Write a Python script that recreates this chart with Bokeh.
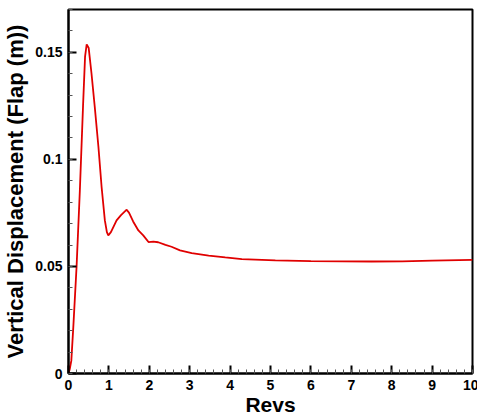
from bokeh.plotting import figure
from bokeh.models import FixedTicker, Range1d
from bokeh.embed import file_html
from bokeh.resources import INLINE

revs = [0, 0.03, 0.07, 0.12, 0.2, 0.28, 0.36, 0.41, 0.45, 0.5, 0.57, 0.65, 0.74,
        0.82, 0.9, 0.95, 0.985, 1.05, 1.19, 1.3, 1.44, 1.5, 1.6, 1.73, 1.85, 1.98,
        2.1, 2.22, 2.4, 2.55, 2.76, 3.05, 3.47, 3.88, 4.29, 5.12, 6.0, 6.77, 7.5,
        8.26, 9.0, 10.0]
disp = [0, 0.002, 0.006, 0.022, 0.05, 0.085, 0.125, 0.148, 0.1537, 0.152, 0.140,
        0.1245, 0.106, 0.087, 0.0715, 0.066, 0.0645, 0.066, 0.0715, 0.074, 0.0765,
        0.075, 0.071, 0.0668, 0.0645, 0.0614, 0.0616, 0.0613, 0.0601, 0.0592,
        0.0575, 0.0562, 0.0551, 0.0542, 0.0534, 0.0528, 0.0525, 0.0524, 0.0523,
        0.0524, 0.0527, 0.0531]

x_ticks = [0, 1, 2, 3, 4, 5, 6, 7, 8, 9, 10]
y_ticks = [0, 0.05, 0.1, 0.15]
y_tick_labels = ["0", "0.05", "0.1", "0.15"]

p = figure(width=477, height=415, output_backend="svg", toolbar_location=None,
           x_range=Range1d(0, 10), y_range=Range1d(0, 0.17),
           min_border_left=67, min_border_right=6, min_border_top=9,
           min_border_bottom=42)
p.frame_width = 404
p.frame_height = 364

p.line(revs, disp, line_color="#e00000", line_width=1.8)

p.grid.visible = False
p.outline_line_color = "black"
p.outline_line_width = 2
p.background_fill_color = "white"
p.border_fill_color = "white"

p.xaxis.ticker = FixedTicker(ticks=x_ticks,
                             minor_ticks=[i * 0.2 for i in range(51)])
p.yaxis.ticker = FixedTicker(ticks=y_ticks,
                             minor_ticks=[i * 0.01 for i in range(18)])
p.yaxis.major_label_overrides = {t: l for t, l in zip(y_ticks, y_tick_labels)}

for ax in (p.xaxis, p.yaxis):
    ax.axis_line_width = 2
    ax.axis_line_color = "black"
    ax.major_tick_in = 8
    ax.major_tick_out = 0
    ax.minor_tick_in = 4
    ax.minor_tick_out = 0
    ax.major_tick_line_width = 2
    ax.minor_tick_line_width = 1
    ax.minor_tick_line_color = "#555555"
    ax.major_label_text_font = "Liberation Sans"
    ax.major_label_text_font_style = "bold"
    ax.major_label_text_font_size = "14px"
    ax.major_label_text_color = "black"
    ax.major_label_standoff = 6
    ax.axis_label_text_font = "Liberation Sans"
    ax.axis_label_text_font_style = "bold"
    ax.axis_label_text_color = "black"

p.xaxis.axis_label = "Revs"
p.xaxis.axis_label_text_font_size = "21px"
p.xaxis.axis_label_standoff = 0
p.yaxis.axis_label = "Vertical Displacement (Flap (m))"
p.yaxis.axis_label_text_font_size = "22px"
p.yaxis.axis_label_standoff = 4

open("out.html", "w").write(file_html(p, INLINE))
